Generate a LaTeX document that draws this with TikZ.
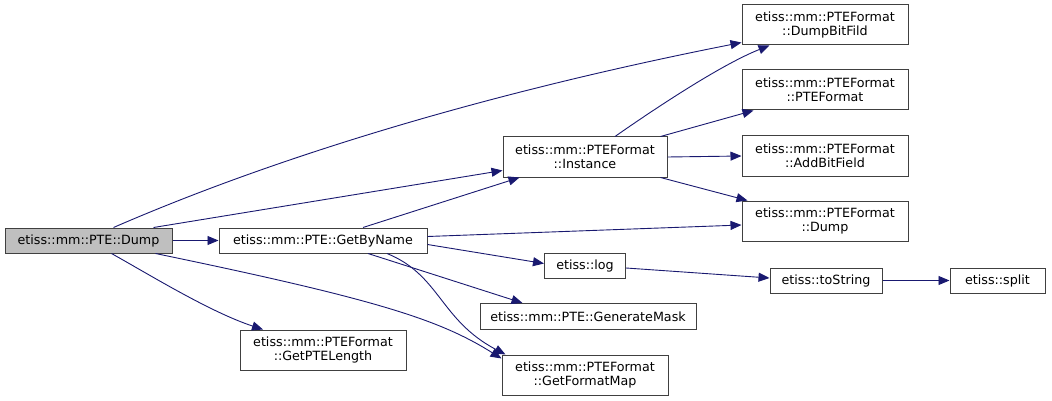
\documentclass[tikz,border=0pt]{standalone}
\usepackage{fontspec}
\setmainfont{DejaVu Sans}
\usetikzlibrary{arrows.meta}
\definecolor{edgecol}{RGB}{25,25,112}
\definecolor{boxcol}{RGB}{64,64,64}
\definecolor{mainfill}{RGB}{191,191,191}
\begin{document}
\begin{tikzpicture}[x=1pt,y=-1pt,
  fn/.style={draw=boxcol, line width=1pt, fill=white, inner sep=0pt, align=center,
    font=\fontsize{12.7}{14.5}\selectfont, text=black},
  cur/.style={fn, fill=mainfill},
  call/.style={draw=edgecol, line width=0.9pt, -{Triangle[length=11pt,width=9pt,fill=edgecol]}}
]
\useasboundingbox (0,0) rectangle (1052,401);
\node[cur, minimum width=167pt, minimum height=25pt] (dump) at (88.5,240.5) {etiss::mm::PTE::Dump};
\node[fn, minimum width=208pt, minimum height=25pt] (gbn) at (323,240.5) {etiss::mm::PTE::GetByName};
\node[fn, minimum width=164pt, minimum height=40pt] (inst) at (585,157) {etiss::mm::PTEFormat\\::Instance};
\node[fn, minimum width=166pt, minimum height=40pt] (dbf) at (825,25) {etiss::mm::PTEFormat\\::DumpBitFild};
\node[fn, minimum width=166pt, minimum height=40pt] (pf) at (825,90) {etiss::mm::PTEFormat\\::PTEFormat};
\node[fn, minimum width=166pt, minimum height=40pt] (abf) at (825,156) {etiss::mm::PTEFormat\\::AddBitField};
\node[fn, minimum width=166pt, minimum height=40pt] (fd) at (825,221) {etiss::mm::PTEFormat\\::Dump};
\node[fn, minimum width=81pt, minimum height=25pt] (log) at (585,265.5) {etiss::log};
\node[fn, minimum width=112pt, minimum height=25pt] (ts) at (826,280.5) {etiss::toString};
\node[fn, minimum width=95pt, minimum height=25pt] (split) at (997.5,280.5) {etiss::split};
\node[fn, minimum width=216pt, minimum height=26pt] (gm) at (588,316.5) {etiss::mm::PTE::GenerateMask};
\node[fn, minimum width=166pt, minimum height=40pt] (gfm) at (585,375) {etiss::mm::PTEFormat\\::GetFormatMap};
\node[fn, minimum width=166pt, minimum height=40pt] (gpl) at (323,350) {etiss::mm::PTEFormat\\::GetPTELength};

\draw[call] ([xshift=25pt]dump.north) .. controls (200,190) and (400,110) .. ([yshift=3pt]dbf.south west);
\draw[call] ([xshift=-19pt]dump.north east) -- ([yshift=7pt]inst.south west);
\draw[call] (dump.east) -- (gbn.west);
\draw[call] ([xshift=23pt]dump.south) .. controls (150,275) and (210,312) .. ([xshift=-60pt]gpl.north);
\draw[call] ([xshift=-17pt]dump.south east) .. controls (380,300) and (440,320) .. ([yshift=-4pt]gfm.north west);
\draw[call] ([xshift=40pt]gbn.north) -- ([xshift=17pt]inst.south west);
\draw[call] ([yshift=4pt]gbn.east) -- ([yshift=-4pt]fd.west);
\draw[call] ([yshift=-4pt]gbn.east) -- ([yshift=2pt]log.west);
\draw[call] ([xshift=45pt]gbn.south) -- ([xshift=43pt]gm.north west);
\draw[call] ([xshift=64pt]gbn.south) .. controls (440,275) and (440,320) .. ([xshift=4pt]gfm.north west);
\draw[call] ([xshift=30pt]inst.north) .. controls (650,112) and (720,65) .. ([xshift=28pt]dbf.south west);
\draw[call] ([xshift=-7pt]inst.north east) -- ([xshift=12pt]pf.south west);
\draw[call] (inst.east) -- (abf.west);
\draw[call] ([xshift=-7pt]inst.south east) -- ([xshift=6pt]fd.north west);
\draw[call] ([yshift=-2.5pt]log.east) -- ([yshift=2.5pt]ts.west);
\draw[call] (ts.east) -- (split.west);
\end{tikzpicture}
\end{document}
